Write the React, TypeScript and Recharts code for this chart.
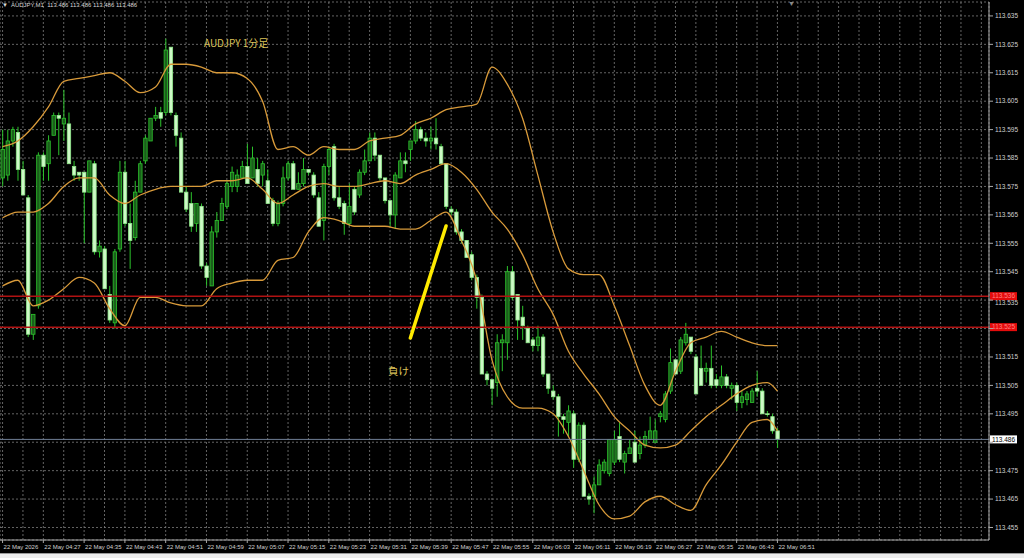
import React from 'react';
import { Bar, CartesianGrid, ComposedChart, Line, ReferenceLine, XAxis, YAxis } from 'recharts';

// AUDJPY M1 candles, 22 May 04:19 .. 06:51
const opens = [
  113.578, 113.579, 113.591, 113.594, 113.581, 113.571, 113.523, 113.533, 113.586, 113.583,
  113.593, 113.600, 113.597, 113.597, 113.582, 113.580, 113.580, 113.573, 113.583, 113.552,
  113.553, 113.537, 113.527, 113.553, 113.580, 113.562, 113.557, 113.573, 113.584, 113.591,
  113.599, 113.601, 113.601, 113.624, 113.600, 113.592, 113.573, 113.569, 113.562, 113.568,
  113.547, 113.540, 113.559, 113.563, 113.568, 113.575, 113.575, 113.578, 113.582, 113.578,
  113.581, 113.579, 113.577, 113.570, 113.562, 113.569, 113.578, 113.583, 113.574, 113.576,
  113.581, 113.579, 113.571, 113.563, 113.582, 113.589, 113.571, 113.569, 113.562, 113.574,
  113.572, 113.580, 113.584, 113.592, 113.586, 113.578, 113.570, 113.565, 113.578, 113.584,
  113.588, 113.591, 113.595, 113.592, 113.591, 113.592, 113.589, 113.583, 113.567, 113.566,
  113.559, 113.556, 113.551, 113.543, 113.536, 113.509, 113.507, 113.506, 113.520, 113.520,
  113.545, 113.537, 113.529, 113.525, 113.521, 113.519, 113.522, 113.509, 113.503, 113.501,
  113.494, 113.492, 113.495, 113.479, 113.491, 113.466, 113.466, 113.470, 113.475, 113.474,
  113.478, 113.487, 113.478, 113.481, 113.485, 113.481, 113.484, 113.486, 113.485, 113.494,
  113.493, 113.503, 113.514, 113.510, 113.520, 113.522, 113.515, 113.511, 113.510, 113.511,
  113.507, 113.505, 113.508, 113.504, 113.505, 113.499, 113.500, 113.499, 113.504, 113.503,
  113.495, 113.494, 113.489,
];
const highs = [
  113.595, 113.595, 113.596, 113.596, 113.584, 113.572, 113.530, 113.587, 113.587, 113.593,
  113.601, 113.601, 113.609, 113.601, 113.584, 113.580, 113.580, 113.584, 113.584, 113.556,
  113.554, 113.540, 113.553, 113.584, 113.584, 113.569, 113.577, 113.584, 113.593, 113.599,
  113.603, 113.603, 113.627, 113.624, 113.601, 113.594, 113.575, 113.573, 113.569, 113.569,
  113.548, 113.561, 113.566, 113.571, 113.577, 113.582, 113.581, 113.584, 113.590, 113.589,
  113.585, 113.584, 113.581, 113.571, 113.570, 113.582, 113.584, 113.584, 113.580, 113.585,
  113.581, 113.580, 113.573, 113.583, 113.589, 113.590, 113.575, 113.570, 113.576, 113.575,
  113.581, 113.588, 113.594, 113.594, 113.586, 113.578, 113.570, 113.580, 113.587, 113.587,
  113.591, 113.598, 113.596, 113.594, 113.596, 113.599, 113.590, 113.583, 113.568, 113.567,
  113.560, 113.556, 113.552, 113.544, 113.537, 113.510, 113.507, 113.523, 113.523, 113.547,
  113.547, 113.537, 113.533, 113.526, 113.522, 113.526, 113.523, 113.509, 113.505, 113.502,
  113.495, 113.498, 113.496, 113.492, 113.492, 113.467, 113.473, 113.479, 113.479, 113.486,
  113.489, 113.492, 113.482, 113.486, 113.489, 113.487, 113.489, 113.494, 113.493, 113.496,
  113.503, 113.518, 113.514, 113.522, 113.527, 113.522, 113.516, 113.519, 113.513, 113.519,
  113.509, 113.512, 113.509, 113.506, 113.506, 113.503, 113.503, 113.504, 113.510, 113.504,
  113.496, 113.495, 113.490,
];
const lows = [
  113.575, 113.577, 113.589, 113.577, 113.572, 113.522, 113.521, 113.532, 113.577, 113.577,
  113.593, 113.586, 113.591, 113.583, 113.577, 113.577, 113.555, 113.573, 113.551, 113.550,
  113.539, 113.527, 113.525, 113.552, 113.561, 113.546, 113.556, 113.573, 113.583, 113.591,
  113.598, 113.596, 113.600, 113.600, 113.589, 113.573, 113.566, 113.559, 113.559, 113.546,
  113.540, 113.540, 113.557, 113.563, 113.567, 113.573, 113.573, 113.578, 113.576, 113.578,
  113.575, 113.575, 113.569, 113.561, 113.561, 113.568, 113.577, 113.574, 113.574, 113.575,
  113.579, 113.571, 113.561, 113.556, 113.579, 113.570, 113.567, 113.558, 113.561, 113.565,
  113.571, 113.579, 113.584, 113.584, 113.577, 113.569, 113.561, 113.560, 113.578, 113.580,
  113.584, 113.590, 113.591, 113.589, 113.588, 113.588, 113.583, 113.567, 113.565, 113.558,
  113.555, 113.550, 113.542, 113.532, 113.509, 113.505, 113.498, 113.501, 113.510, 113.514,
  113.535, 113.521, 113.521, 113.520, 113.517, 113.517, 113.508, 113.502, 113.500, 113.487,
  113.488, 113.487, 113.476, 113.478, 113.466, 113.463, 113.460, 113.470, 113.474, 113.473,
  113.477, 113.478, 113.474, 113.481, 113.478, 113.479, 113.483, 113.486, 113.485, 113.492,
  113.492, 113.502, 113.509, 113.509, 113.519, 113.516, 113.502, 113.505, 113.506, 113.504,
  113.504, 113.504, 113.504, 113.500, 113.496, 113.497, 113.498, 113.499, 113.501, 113.495,
  113.494, 113.488, 113.483,
];
const closes = [
  113.588, 113.591, 113.595, 113.581, 113.572, 113.523, 113.530, 113.586, 113.582, 113.591,
  113.600, 113.599, 113.599, 113.583, 113.579, 113.579, 113.573, 113.584, 113.552, 113.554,
  113.539, 113.528, 113.552, 113.580, 113.562, 113.556, 113.573, 113.583, 113.592, 113.599,
  113.600, 113.599, 113.623, 113.601, 113.593, 113.573, 113.567, 113.561, 113.569, 113.547,
  113.543, 113.559, 113.563, 113.569, 113.576, 113.580, 113.579, 113.582, 113.576, 113.585,
  113.576, 113.583, 113.569, 113.562, 113.569, 113.578, 113.583, 113.574, 113.576, 113.581,
  113.580, 113.572, 113.561, 113.582, 113.588, 113.571, 113.568, 113.562, 113.568, 113.566,
  113.580, 113.584, 113.592, 113.586, 113.578, 113.570, 113.565, 113.579, 113.584, 113.583,
  113.591, 113.595, 113.592, 113.591, 113.592, 113.590, 113.583, 113.568, 113.566, 113.559,
  113.556, 113.550, 113.543, 113.536, 113.509, 113.507, 113.504, 113.520, 113.521, 113.545,
  113.536, 113.528, 113.526, 113.520, 113.519, 113.522, 113.509, 113.504, 113.501, 113.494,
  113.493, 113.496, 113.479, 113.491, 113.466, 113.465, 113.470, 113.477, 113.478, 113.486,
  113.486, 113.479, 113.481, 113.483, 113.478, 113.484, 113.487, 113.489, 113.489, 113.495,
  113.502, 113.513, 113.509, 113.521, 113.523, 113.517, 113.502, 113.505, 113.511, 113.505,
  113.505, 113.508, 113.505, 113.505, 113.499, 113.501, 113.502, 113.503, 113.503, 113.495,
  113.495, 113.489, 113.486,
];

// bollinger bands at these bars
const bandIdx = [
  0, 3, 6, 9, 12, 15, 18, 21, 24, 27, 30, 33, 36, 39, 42, 45, 48, 51, 54, 57, 60, 63, 66, 69, 72, 75,
  78, 81, 84, 87, 90, 93, 96, 99, 102, 105, 108, 111, 114, 117, 120, 123, 126, 129, 132, 135, 138,
  141, 144, 147, 150, 152,
];
const upper = [
  113.589, 113.591, 113.596, 113.603, 113.612, 113.613, 113.614, 113.615, 113.612, 113.608,
  113.610, 113.618, 113.618, 113.617, 113.615, 113.615, 113.613, 113.605, 113.588, 113.589,
  113.586, 113.589, 113.588, 113.588, 113.591, 113.592, 113.593, 113.597, 113.599, 113.602,
  113.603, 113.604, 113.617, 113.611, 113.599, 113.579, 113.559, 113.546, 113.544, 113.544,
  113.533, 113.519, 113.505, 113.498, 113.510, 113.520, 113.522, 113.524, 113.522, 113.520,
  113.519, 113.519,
];
const middle = [
  113.564, 113.566, 113.566, 113.569, 113.575, 113.578, 113.578, 113.572, 113.569, 113.572,
  113.574, 113.575, 113.575, 113.575, 113.577, 113.577, 113.578, 113.574, 113.569, 113.572,
  113.575, 113.576, 113.575, 113.575, 113.576, 113.577, 113.576, 113.579, 113.581, 113.583,
  113.580, 113.574, 113.566, 113.560, 113.551, 113.539, 113.530, 113.517, 113.509, 113.502,
  113.494, 113.489, 113.484, 113.483, 113.484, 113.489, 113.494, 113.498, 113.502, 113.505,
  113.506, 113.503,
];
const lower = [
  113.540, 113.542, 113.533, 113.535, 113.539, 113.543, 113.541, 113.532, 113.526, 113.536,
  113.536, 113.534, 113.533, 113.533, 113.539, 113.541, 113.542, 113.542, 113.549, 113.550,
  113.559, 113.564, 113.563, 113.561, 113.561, 113.561, 113.560, 113.560, 113.563, 113.566,
  113.556, 113.542, 113.514, 113.501, 113.497, 113.497, 113.495, 113.487, 113.475, 113.463,
  113.458, 113.459, 113.464, 113.466, 113.463, 113.461, 113.470, 113.477, 113.485, 113.492,
  113.493, 113.489,
];

// one label every 8 bars
const timeLabels = [
  '22 May 2026', '22 May 04:27', '22 May 04:35', '22 May 04:43', '22 May 04:51', '22 May 04:59',
  '22 May 05:07', '22 May 05:15', '22 May 05:23', '22 May 05:31', '22 May 05:39', '22 May 05:47',
  '22 May 05:55', '22 May 06:03', '22 May 06:11', '22 May 06:19', '22 May 06:27', '22 May 06:35',
  '22 May 06:43', '22 May 06:51',
];
const priceTicks = [
  113.455, 113.465, 113.475, 113.485, 113.495, 113.505, 113.515, 113.525, 113.535, 113.545,
  113.555, 113.565, 113.575, 113.585, 113.595, 113.605, 113.615, 113.625, 113.635,
];
// tick labels that sit under a price tag on the scale
const coveredTicks = [113.485, 113.525];
const nudgedTick = 113.535; // peeks out just below the red tag
const redLevels = [113.5364, 113.5255];
const lastPrice = 113.486;
const arrowFrom = { bar: 80, price: 113.5217 };
const arrowTo = { bar: 87, price: 113.5611 };
const totalSlots = 194; // chart is shifted, empty space on the right

const rows = Array.from({ length: totalSlots }, (_, i) => {
  const k = bandIdx.indexOf(i);
  const has = i < closes.length;
  return {
    i,
    range: has ? [lows[i], highs[i]] : null,
    open: has ? opens[i] : null,
    high: has ? highs[i] : null,
    low: has ? lows[i] : null,
    close: has ? closes[i] : null,
    upper: k >= 0 ? upper[k] : null,
    middle: k >= 0 ? middle[k] : null,
    lower: k >= 0 ? lower[k] : null,
  };
});

const axisFont = '"Liberation Sans", Arial, sans-serif';
const noteFont = '"Noto Sans CJK JP", "Liberation Sans", sans-serif';
const bandColor = '#d89a3a';

function Candle(props: any) {
  const { x, y, width, height, payload } = props;
  if (!payload || payload.open == null) return null;
  const { open, close, high, low } = payload;
  const top = Math.min(y, y + height);
  const h = Math.abs(height);
  const span = high - low || 1e-9;
  const py = (v: number) => top + ((high - v) / span) * h;
  const bull = close > open;
  const bTop = py(Math.max(open, close));
  const bBot = py(Math.min(open, close));
  const cx = x + width / 2;
  return (
    <g>
      <line x1={cx} x2={cx} y1={top} y2={top + h} stroke="#2cc42c" strokeWidth={1} />
      <rect
        x={x}
        y={bTop}
        width={width}
        height={Math.max(bBot - bTop, 0.8)}
        fill={bull ? '#1b5e1b' : '#cdf9c6'}
        stroke={bull ? '#2cc42c' : '#8fe88a'}
        strokeWidth={0.8}
      />
    </g>
  );
}

function TimeTick(props: any) {
  const { x, y, payload } = props;
  const i = payload.value;
  if (i % 8 !== 0) return null;
  const lab = timeLabels[i / 8];
  if (!lab) return null;
  return (
    <g>
      <line x1={x} x2={x} y1={y} y2={y + 3} stroke="#a8a8a8" />
      <text x={x + 1} y={y + 8.5} fill="#d0d0d0" fontSize={6} fontFamily={axisFont}>
        {lab}
      </text>
    </g>
  );
}

function PriceTick(props: any) {
  const { x, y, payload } = props;
  if (coveredTicks.includes(payload.value)) return null;
  const dy = payload.value === nudgedTick ? 4.8 : 2.3;
  return (
    <text x={x} y={y + dy} fill="#cfcfcf" fontSize={6.5} fontFamily={axisFont}>
      {Number(payload.value).toFixed(3)}
    </text>
  );
}

function PriceTag(props: any) {
  const { viewBox, text, bg, fg } = props;
  if (!viewBox) return null;
  const x0 = viewBox.x + viewBox.width + 1;
  return (
    <g>
      <rect x={x0} y={viewBox.y - 4} width={27} height={8} fill={bg} />
      <text x={x0 + 2} y={viewBox.y + 2.3} fill={fg} fontSize={6.5} fontFamily={axisFont}>
        {text}
      </text>
    </g>
  );
}

export default function App() {
  return (
    <div style={{ position: 'relative', width: 1024, height: 558, background: '#000', overflow: 'hidden' }}>
      <style>{'body{margin:0;background:#000}'}</style>
      <ComposedChart
        width={1024}
        height={553}
        data={rows}
        margin={{ top: 2, right: 0, bottom: 0, left: 0 }}
        barCategoryGap={0}
      >
        <CartesianGrid stroke="#7d7d7d" strokeDasharray="2 2" strokeWidth={0.8} />
        <XAxis
          dataKey="i"
          type="category"
          interval={3}
          height={13}
          tickSize={0}
          tickMargin={0}
          tickLine={false}
          axisLine={{ stroke: '#a8a8a8' }}
          tick={<TimeTick />}
        />
        <YAxis
          orientation="right"
          width={35}
          type="number"
          domain={[113.4506, 113.6399]}
          allowDataOverflow
          ticks={priceTicks}
          interval={0}
          tickSize={4}
          tickMargin={2}
          tickLine={{ stroke: '#a8a8a8' }}
          axisLine={{ stroke: '#a8a8a8' }}
          tick={<PriceTick />}
        />
        <Bar dataKey="range" barSize={3.4} shape={<Candle />} isAnimationActive={false} />
        <Line dataKey="upper" type="monotone" stroke={bandColor} strokeWidth={1.3} dot={false} connectNulls isAnimationActive={false} />
        <Line dataKey="middle" type="monotone" stroke={bandColor} strokeWidth={1.3} dot={false} connectNulls isAnimationActive={false} />
        <Line dataKey="lower" type="monotone" stroke={bandColor} strokeWidth={1.3} dot={false} connectNulls isAnimationActive={false} />
        {redLevels.map((lv) => (
          <ReferenceLine
            key={lv}
            y={lv}
            stroke="#b01212"
            strokeWidth={1.5}
            label={<PriceTag text={lv.toFixed(3)} bg="#e40c0c" fg="#ff8080" />}
          />
        ))}
        <ReferenceLine
          y={lastPrice}
          stroke="#6f7f95"
          strokeWidth={1}
          label={<PriceTag text={lastPrice.toFixed(3)} bg="#ffffff" fg="#000000" />}
        />
        <ReferenceLine
          segment={[
            { x: arrowFrom.bar, y: arrowFrom.price },
            { x: arrowTo.bar, y: arrowTo.price },
          ]}
          stroke="#ffeb00"
          strokeWidth={3.5}
          strokeLinecap="round"
        />
      </ComposedChart>
      <div style={{ position: 'absolute', left: 0, top: 553, width: 1024, height: 5, background: '#ececec', borderTop: '1px solid #9a9a9a' }} />
      <div style={{ position: 'absolute', left: 2, top: 1, fontSize: 6, color: '#d8d8d8', fontFamily: axisFont, whiteSpace: 'nowrap', lineHeight: '9px' }}>
        ▼&nbsp; AUDJPY,M1&nbsp; 113.486 113.486 113.486 113.486
      </div>
      <div style={{ position: 'absolute', left: 788, top: 0, fontSize: 7, color: '#8a8a8a', fontFamily: axisFont, lineHeight: '8px' }}>▼</div>
      <div style={{ position: 'absolute', left: 204, top: 36, fontSize: 10, color: '#dcc35a', fontFamily: noteFont, whiteSpace: 'nowrap', lineHeight: '14px' }}>
        AUDJPY 1分足
      </div>
      <div style={{ position: 'absolute', left: 388, top: 363, fontSize: 10.5, color: '#dcc35a', fontFamily: noteFont, whiteSpace: 'nowrap', lineHeight: '15px' }}>
        負け
      </div>
    </div>
  );
}
